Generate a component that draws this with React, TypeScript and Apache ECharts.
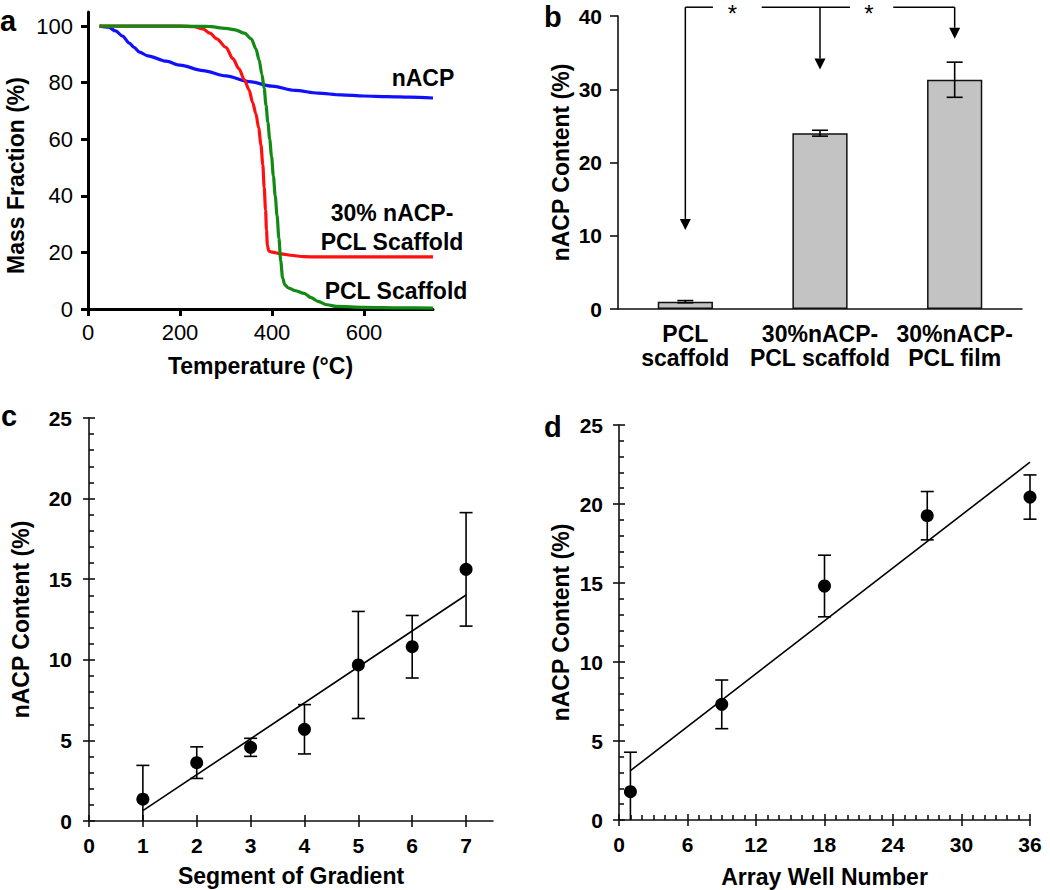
import React, { useEffect, useRef } from 'react';
import * as echarts from 'echarts';

const FONT = '"Liberation Sans", Arial, Helvetica, sans-serif';

// ---------- Panel a : TGA curves ----------
const tempTicks = [0, 200, 400, 600];
const massTicks = [0, 20, 40, 60, 80, 100];
const nacpCurve: number[][] = [
  [25, 100], [45, 99.6], [60, 98.3], [75, 96.5], [90, 94], [100, 92.5], [112, 90.8], [130, 89.5],
  [170, 87.6], [200, 86.2], [250, 84.3], [300, 82.4], [350, 80.4], [400, 78.8], [450, 77.3],
  [500, 76.3], [550, 75.7], [600, 75.3], [650, 75.1], [700, 74.9], [750, 74.6],
];
const compositeCurve: number[][] = [
  [25, 100], [200, 100], [230, 99.8], [250, 99], [265, 97.5], [280, 95.5], [300, 92.5], [315, 88.5],
  [328, 85], [340, 81], [350, 77.5], [358, 73], [365, 69], [371, 64], [376, 58], [380, 51], [383, 43],
  [386, 35], [388, 28], [390, 22.5], [393, 20.5], [400, 20.1], [420, 19.5], [440, 19], [470, 18.5],
  [500, 18.4], [600, 18.4], [750, 18.4],
];
const pclCurve: number[][] = [
  [25, 100], [200, 100], [260, 99.9], [300, 99.2], [320, 98.7], [340, 97.5], [355, 95.5], [365, 92],
  [372, 88], [378, 83], [383, 78], [387, 72], [391, 66], [395, 60], [399, 54], [403, 47], [407, 40],
  [411, 33], [415, 25], [419, 17], [423, 11], [428, 8.5], [435, 7.5], [450, 6.5], [470, 5.5], [485, 4],
  [500, 2.7], [520, 1.5], [540, 0.9], [600, 0.6], [680, 0.4], [750, 0.3],
];

// ---------- Panel b : bar chart ----------
const bCategories = ['PCL\nscaffold', '30%nACP-\nPCL scaffold', '30%nACP-\nPCL film'];
const bMeans = [1.0, 24.0, 31.3];
const bErrors = [0.15, 0.4, 2.4];
const bArrowTips = [10.8, 32.7, 36.9];
const bBracketLevel = 41.2;
const bStarPositions = [0.35, 1.364];
const bLineSegments = [[0, 0.205], [0.567, 1.223], [1.544, 2]];

// ---------- Panel c : gradient segments ----------
const cXTicks = [0, 1, 2, 3, 4, 5, 6, 7];
const cSegments = [1, 2, 3, 4, 5, 6, 7];
const cMeans = [1.35, 3.62, 4.57, 5.69, 9.68, 10.81, 15.61];
const cErrors = [2.1, 0.98, 0.56, 1.53, 3.32, 1.94, 3.52];
const cFit = [[1, 0.64], [7, 14.02]];

// ---------- Panel d : array wells ----------
const dWells = [1, 9, 18, 27, 36];
const dMeans = [1.79, 7.32, 14.81, 19.26, 20.44];
const dErrors = [2.5, 1.54, 1.95, 1.53, 1.4];
const dFit = [[1, 3.12], [36, 22.65]];

const errData = (xs: number[], m: number[], e: number[]) =>
  xs.map((x, i) => [x, m[i] - e[i], m[i] + e[i]]);

const errorBarRender = (capHalf: number, lw: number) => (params: any, api: any) => {
  const x = api.value(0);
  const lo = api.value(1);
  const hi = api.value(2);
  const pHi = api.coord([x, hi]);
  const pLo = api.coord([x, Math.max(lo, 0)]);
  const st = { stroke: '#000', lineWidth: lw };
  const children: any[] = [
    { type: 'line', shape: { x1: pHi[0], y1: pHi[1], x2: pLo[0], y2: pLo[1] }, style: st },
    { type: 'line', shape: { x1: pHi[0] - capHalf, y1: pHi[1], x2: pHi[0] + capHalf, y2: pHi[1] }, style: st },
  ];
  if (lo >= 0) {
    children.push({ type: 'line', shape: { x1: pLo[0] - capHalf, y1: pLo[1], x2: pLo[0] + capHalf, y2: pLo[1] }, style: st });
  }
  return { type: 'group', children };
};

const bracketRender = (params: any, api: any) => {
  const p0 = api.coord([0, bBracketLevel]);
  const p1 = api.coord([1, bBracketLevel]);
  const step = p1[0] - p0[0];
  const X = (f: number) => p0[0] + f * step;
  const yTop = p0[1];
  const st = { stroke: '#000', lineWidth: 1.5 };
  const children: any[] = [];
  bLineSegments.forEach(([a, b]) => {
    children.push({ type: 'line', shape: { x1: X(a), y1: yTop, x2: X(b), y2: yTop }, style: st });
  });
  bArrowTips.forEach((v, i) => {
    const tip = api.coord([i, v]);
    const x = X(i);
    const ah = 11;
    children.push({ type: 'line', shape: { x1: x, y1: yTop, x2: x, y2: tip[1] - ah }, style: st });
    children.push({
      type: 'polygon',
      shape: { points: [[x - 5.5, tip[1] - ah], [x + 5.5, tip[1] - ah], [x, tip[1]]] },
      style: { fill: '#000' },
    });
  });
  bStarPositions.forEach((f) => {
    children.push({
      type: 'text',
      x: X(f),
      y: yTop + 6,
      style: { text: '*', fontSize: 24, fontWeight: 'normal', fontFamily: FONT, fill: '#000', align: 'center', verticalAlign: 'middle' },
    });
  });
  return { type: 'group', children };
};

const axisColor = '#111';
const boldLabel = (size: number, margin: number, extra: any = {}) => ({
  fontFamily: FONT, color: '#000', fontWeight: 'bold', fontSize: size, margin, ...extra,
});
const nameFont = { fontFamily: FONT, color: '#000', fontWeight: 'bold', fontSize: 23 };

export default function App() {
  const ref = useRef<HTMLDivElement>(null);
  useEffect(() => {
    if (!ref.current) return;
    const chart = echarts.init(ref.current, undefined, { renderer: 'svg' });
    const thin = { color: axisColor, width: 1.6 };
    const option: any = {
      animation: false,
      backgroundColor: '#fff',
      textStyle: { fontFamily: FONT, color: '#000' },
      grid: [
        { left: 88, top: 12, width: 345, height: 297 },
        { left: 618, top: 16, width: 404, height: 293 },
        { left: 89, top: 418, width: 404, height: 403 },
        { left: 619, top: 425, width: 411, height: 395 },
      ],
      xAxis: [
        {
          gridIndex: 0, type: 'value', min: 0, max: 750,
          axisLine: { lineStyle: { color: '#000', width: 3 } },
          axisTick: { customValues: tempTicks, length: 7, lineStyle: { color: '#000', width: 3 } },
          axisLabel: { customValues: tempTicks, fontFamily: FONT, fontWeight: 'normal', fontSize: 22, color: '#000', margin: 12 },
          splitLine: { show: false },
          name: 'Temperature (°C)', nameLocation: 'middle', nameGap: 45, nameTextStyle: nameFont,
        },
        {
          gridIndex: 1, type: 'category', data: bCategories,
          axisLine: { lineStyle: thin },
          axisTick: { length: 8, lineStyle: thin },
          axisLabel: boldLabel(23, 13, { lineHeight: 24, interval: 0 }),
        },
        {
          gridIndex: 2, type: 'value', min: 0, max: 7.5,
          axisLine: { lineStyle: thin },
          axisTick: { customValues: cXTicks, length: 6, lineStyle: thin },
          axisLabel: boldLabel(21, 14, { customValues: cXTicks }),
          splitLine: { show: false },
          name: 'Segment of Gradient', nameLocation: 'middle', nameGap: 43, nameTextStyle: nameFont,
        },
        {
          gridIndex: 2, type: 'value', min: 0, max: 7.5, position: 'bottom',
          axisLine: { show: false },
          axisTick: { customValues: cXTicks, inside: true, length: 6, lineStyle: thin },
          axisLabel: { show: false },
          splitLine: { show: false },
        },
        {
          gridIndex: 3, type: 'value', min: 0, max: 36, interval: 6,
          axisLine: { lineStyle: thin },
          axisTick: { length: 6, lineStyle: thin },
          axisLabel: boldLabel(21, 14),
          splitLine: { show: false },
          name: 'Array Well Number', nameLocation: 'middle', nameGap: 45, nameTextStyle: nameFont,
        },
        {
          gridIndex: 3, type: 'value', min: 0, max: 36, interval: 6, position: 'bottom',
          axisLine: { show: false },
          axisTick: { inside: true, length: 6, lineStyle: thin },
          minorTick: { show: true, splitNumber: 6, length: 5, lineStyle: thin },
          axisLabel: { show: false },
          splitLine: { show: false },
        },
      ],
      yAxis: [
        {
          gridIndex: 0, type: 'value', min: 0, max: 105,
          axisLine: { lineStyle: { color: '#000', width: 3 } },
          axisTick: { customValues: massTicks, length: 7, lineStyle: { color: '#000', width: 3 } },
          axisLabel: { customValues: massTicks, fontFamily: FONT, fontWeight: 'normal', fontSize: 22, color: '#000', margin: 15 },
          splitLine: { show: false },
          name: 'Mass Fraction (%)', nameLocation: 'middle', nameRotate: 90, nameGap: 61,
          nameTextStyle: { ...nameFont, padding: [0, 30, 0, 0] },
        },
        {
          gridIndex: 1, type: 'value', min: 0, max: 40, interval: 10,
          axisLine: { show: true, lineStyle: thin },
          axisTick: { show: true, length: 8, lineStyle: thin },
          axisLabel: boldLabel(21, 16),
          splitLine: { show: false },
          name: 'nACP Content (%)', nameLocation: 'middle', nameRotate: 90, nameGap: 46, nameTextStyle: nameFont,
        },
        {
          gridIndex: 2, type: 'value', min: 0, max: 25, interval: 5,
          axisLine: { show: true, lineStyle: thin },
          axisTick: { show: true, length: 6, lineStyle: thin },
          axisLabel: boldLabel(21, 17),
          splitLine: { show: false },
          name: 'nACP Content (%)', nameLocation: 'middle', nameRotate: 90, nameGap: 57, nameTextStyle: nameFont,
        },
        {
          gridIndex: 2, type: 'value', min: 0, max: 25, interval: 5, position: 'left',
          axisLine: { show: false },
          axisTick: { show: true, inside: true, length: 6, lineStyle: thin },
          minorTick: { show: true, splitNumber: 5, length: 5, lineStyle: thin },
          axisLabel: { show: false },
          splitLine: { show: false },
        },
        {
          gridIndex: 3, type: 'value', min: 0, max: 25, interval: 5,
          axisLine: { show: true, lineStyle: thin },
          axisTick: { show: true, length: 6, lineStyle: thin },
          axisLabel: boldLabel(21, 16),
          splitLine: { show: false },
          name: 'nACP Content (%)', nameLocation: 'middle', nameRotate: 90, nameGap: 47, nameTextStyle: nameFont,
        },
        {
          gridIndex: 3, type: 'value', min: 0, max: 25, interval: 5, position: 'left',
          axisLine: { show: false },
          axisTick: { show: true, inside: true, length: 6, lineStyle: thin },
          minorTick: { show: true, splitNumber: 5, length: 5, lineStyle: thin },
          axisLabel: { show: false },
          splitLine: { show: false },
        },
      ],
      series: [
        // panel a
        { type: 'line', name: 'nACP', xAxisIndex: 0, yAxisIndex: 0, data: nacpCurve, symbol: 'none',
          smooth: 0.3, smoothMonotone: 'x', lineStyle: { color: '#1010ff', width: 3.2 } },
        { type: 'line', name: '30% nACP-PCL Scaffold', xAxisIndex: 0, yAxisIndex: 0, data: compositeCurve, symbol: 'none',
          smooth: 0.3, smoothMonotone: 'x', lineStyle: { color: '#ff1010', width: 3.2 } },
        { type: 'line', name: 'PCL Scaffold', xAxisIndex: 0, yAxisIndex: 0, data: pclCurve, symbol: 'none',
          smooth: 0.3, smoothMonotone: 'x', lineStyle: { color: '#138a13', width: 3.2 } },
        // panel b
        { type: 'bar', xAxisIndex: 1, yAxisIndex: 1, data: bMeans, barWidth: '41%',
          itemStyle: { color: '#c3c3c3', borderColor: '#111', borderWidth: 1.5 } },
        { type: 'custom', xAxisIndex: 1, yAxisIndex: 1, data: errData([0, 1, 2], bMeans, bErrors),
          encode: { x: 0, y: [1, 2] }, renderItem: errorBarRender(8, 1.6), z: 5 },
        { type: 'custom', xAxisIndex: 1, yAxisIndex: 1, data: [[0, 0]], clip: false, silent: true,
          renderItem: bracketRender, z: 5 },
        // panel c
        { type: 'custom', xAxisIndex: 2, yAxisIndex: 2, data: errData(cSegments, cMeans, cErrors),
          encode: { x: 0, y: [1, 2] }, renderItem: errorBarRender(6.5, 1.6), z: 3 },
        { type: 'line', xAxisIndex: 2, yAxisIndex: 2, data: cFit, symbol: 'none',
          lineStyle: { color: '#000', width: 1.6 }, z: 3 },
        { type: 'scatter', xAxisIndex: 2, yAxisIndex: 2, data: cSegments.map((x, i) => [x, cMeans[i]]),
          symbolSize: 13, itemStyle: { color: '#000', opacity: 1 }, z: 4 },
        // panel d
        { type: 'custom', xAxisIndex: 4, yAxisIndex: 4, data: errData(dWells, dMeans, dErrors),
          encode: { x: 0, y: [1, 2] }, renderItem: errorBarRender(6.5, 1.6), z: 3 },
        { type: 'line', xAxisIndex: 4, yAxisIndex: 4, data: dFit, symbol: 'none',
          lineStyle: { color: '#000', width: 1.6 }, z: 3 },
        { type: 'scatter', xAxisIndex: 4, yAxisIndex: 4, data: dWells.map((x, i) => [x, dMeans[i]]),
          symbolSize: 13, itemStyle: { color: '#000', opacity: 1 }, z: 4 },
      ],
      graphic: [
        { type: 'text', left: 0, top: 6, style: { text: 'a', fontSize: 29, fontWeight: 'bold', fontFamily: FONT, fill: '#000' } },
        { type: 'text', left: 544, top: 2, style: { text: 'b', fontSize: 29, fontWeight: 'bold', fontFamily: FONT, fill: '#000' } },
        { type: 'text', left: 1, top: 401, style: { text: 'c', fontSize: 29, fontWeight: 'bold', fontFamily: FONT, fill: '#000' } },
        { type: 'text', left: 544, top: 412, style: { text: 'd', fontSize: 29, fontWeight: 'bold', fontFamily: FONT, fill: '#000' } },
        { type: 'text', x: 423, y: 78, style: { text: 'nACP', fontSize: 23, fontWeight: 'bold', fontFamily: FONT, fill: '#000', align: 'center', verticalAlign: 'middle' } },
        { type: 'text', x: 392, y: 227, style: { text: '30% nACP-\nPCL Scaffold', lineHeight: 29, fontSize: 23, fontWeight: 'bold', fontFamily: FONT, fill: '#000', align: 'center', verticalAlign: 'middle' } },
        { type: 'text', x: 396, y: 291, style: { text: 'PCL Scaffold', fontSize: 23, fontWeight: 'bold', fontFamily: FONT, fill: '#000', align: 'center', verticalAlign: 'middle' } },
      ],
    };
    chart.setOption(option);
    return () => chart.dispose();
  }, []);
  return <div ref={ref} style={{ position: 'absolute', left: 0, top: 0, width: 1050, height: 890 }} />;
}
